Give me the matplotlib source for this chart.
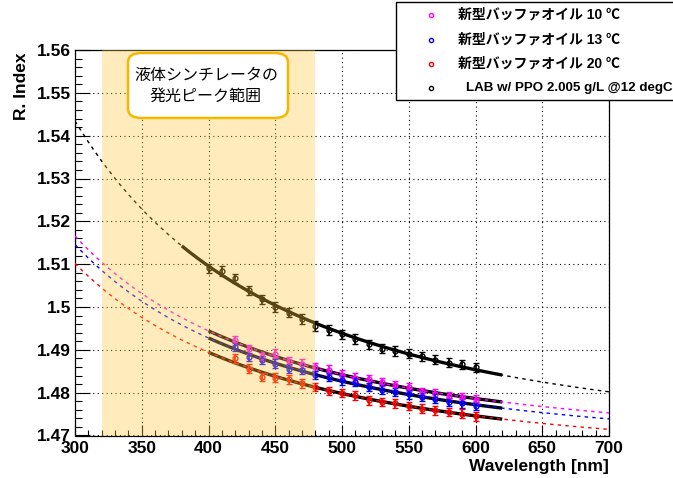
import numpy as np
import matplotlib
matplotlib.use("Agg")
import matplotlib.pyplot as plt
from matplotlib.patches import FancyBboxPatch, Rectangle
from matplotlib.lines import Line2D
from matplotlib.ticker import MultipleLocator, FormatStrFormatter

# ---- measured refractive index data ----
wl_lab = np.arange(400, 601, 10)
n_lab = [1.5090, 1.5084, 1.5067, 1.5039, 1.5018, 1.5000, 1.4987, 1.4972,
         1.4956, 1.4946, 1.4936, 1.4925, 1.4913, 1.4903, 1.4897, 1.4891,
         1.4885, 1.4877, 1.4870, 1.4866, 1.4859]

wl_oil = np.arange(420, 601, 10)
n_oil10 = [1.4922, 1.4901, 1.4883, 1.4891, 1.4874, 1.4868, 1.4860, 1.4854,
           1.4842, 1.4835, 1.4831, 1.4825, 1.4817, 1.4813, 1.4802, 1.4798,
           1.4792, 1.4790, 1.4784]
n_oil13 = [1.4907, 1.4883, 1.4876, 1.4868, 1.4856, 1.4854, 1.4841, 1.4837,
           1.4829, 1.4825, 1.4813, 1.4807, 1.4802, 1.4796, 1.4790, 1.4786,
           1.4778, 1.4775, 1.4769]
n_oil20 = [1.4880, 1.4856, 1.4837, 1.4835, 1.4831, 1.4822, 1.4813, 1.4804,
           1.4799, 1.4794, 1.4782, 1.4778, 1.4775, 1.4769, 1.4763, 1.4759,
           1.4755, 1.4751, 1.4745]

err_lab = 0.0011
err_oil = 0.0010

labels = ["新型バッファオイル 10 ℃", "新型バッファオイル 13 ℃",
          "新型バッファオイル 20 ℃", "LAB w/ PPO 2.005 g/L @12 degC"]
colors = ["#ff00ff", "#0000ff", "#ff0000", "#000000"]

peak_lo, peak_hi = 320, 480
peak_text = "液体シンチレータの\n発光ピーク範囲"

W, H = 673, 478
fig = plt.figure(figsize=(W / 100, H / 100), dpi=100)


def fx(px):
    return px / W


def fy(py):
    return 1 - py / H


ax = fig.add_axes([fx(75), fy(435.5), fx(609) - fx(75), fy(50) - fy(435.5)])
ax.set_xlim(300, 700)
ax.set_ylim(1.47, 1.56)

num_font = dict(family="Liberation Sans", weight="bold")

# grid
ax.grid(True, which="major", color="black", linestyle=(0, (1, 3)), linewidth=0.8)
ax.set_axisbelow(True)

# ticks
ax.xaxis.set_major_locator(MultipleLocator(50))
ax.xaxis.set_minor_locator(MultipleLocator(10))
ax.yaxis.set_major_locator(MultipleLocator(0.01))
ax.yaxis.set_minor_locator(MultipleLocator(0.002))
ax.yaxis.set_major_formatter(FormatStrFormatter("%g"))
ax.tick_params(axis="both", which="both", direction="in", top=False, right=False,
               width=0.8)
ax.tick_params(axis="y", which="major", length=10.5, pad=3)
ax.tick_params(axis="y", which="minor", length=5.2)
ax.tick_params(axis="x", which="major", length=8, pad=4)
ax.tick_params(axis="x", which="minor", length=4)
for lab in ax.get_xticklabels() + ax.get_yticklabels():
    lab.set_fontfamily("Liberation Sans")
    lab.set_fontweight("bold")
    lab.set_fontsize(12.5)
for sp in ax.spines.values():
    sp.set_linewidth(0.9)


def cauchy_fit(wl, n):
    # n(λ) = A + B / λ^2
    x = (100.0 / np.asarray(wl, float)) ** 2
    B, A = np.polyfit(x, np.asarray(n, float), 1)
    return lambda w: A + B * (100.0 / w) ** 2


series = [(wl_oil, n_oil10, err_oil, 400), (wl_oil, n_oil13, err_oil, 400),
          (wl_oil, n_oil20, err_oil, 400), (wl_lab, n_lab, err_lab, 380)]

w_full = np.linspace(300, 700, 400)
for (wl, n, err, lo), c in zip(series, colors):
    f = cauchy_fit(wl, n)
    w_fit = np.linspace(lo, 620, 200)
    ax.plot(w_fit, f(w_fit), color="black", lw=2.4, zorder=3, solid_capstyle="butt")
    ax.plot(w_full, f(w_full), color=c, lw=1.0, ls=(0, (2.5, 3)), zorder=4)
    ax.errorbar(wl, n, yerr=err, fmt="o", ms=3.5, mfc="none", mec=c, mew=1.0,
                ecolor=c, elinewidth=1.3, capsize=2.3, capthick=1.3, zorder=5)

# emission peak band, laid over the data
ax.axvspan(peak_lo, peak_hi, color="#ffc83c", alpha=0.35, lw=0, zorder=6)

# note box
box = FancyBboxPatch((fx(128), fy(118)), fx(288) - fx(128), fy(53) - fy(118),
                     boxstyle="round,pad=0,rounding_size=0.02",
                     transform=fig.transFigure, facecolor="white",
                     edgecolor="#f5b800", lw=1.8, zorder=10)
fig.add_artist(box)
fig.text(fx(206), fy(86), peak_text, ha="center", va="center", fontsize=11.5,
         family=["Noto Sans CJK JP", "DejaVu Sans"], linespacing=1.3, zorder=11)

# axis titles
fig.text(fx(609), fy(466), "Wavelength [nm]", ha="right", va="center",
         fontsize=12.5, **num_font)
fig.text(fx(22), fy(52), "R. Index", ha="center", va="top", rotation=90,
         fontsize=12.5, **num_font)

# legend
leg = Rectangle((fx(396), fy(99.5)), fx(700) - fx(396), fy(2) - fy(99.5),
                transform=fig.transFigure, facecolor="white", edgecolor="black",
                lw=1.0, zorder=20, clip_on=False)
fig.add_artist(leg)
ys = [15, 39.5, 63.5, 88]
for i, (lab, c, y) in enumerate(zip(labels, colors, ys)):
    fig.add_artist(Line2D([fx(431)], [fy(y)], marker="o", ms=3.0, mfc="none",
                          mec=c, mew=1.0, ls="none", transform=fig.transFigure,
                          zorder=21))
    x0 = 458 if i < 3 else 466
    fig.text(fx(x0), fy(y), lab, ha="left", va="center", fontsize=10 if i < 3 else 9.6,
             family=["Liberation Sans", "Noto Sans CJK JP"], weight="bold",
             zorder=22)

fig.savefig("out.png", dpi=100)
